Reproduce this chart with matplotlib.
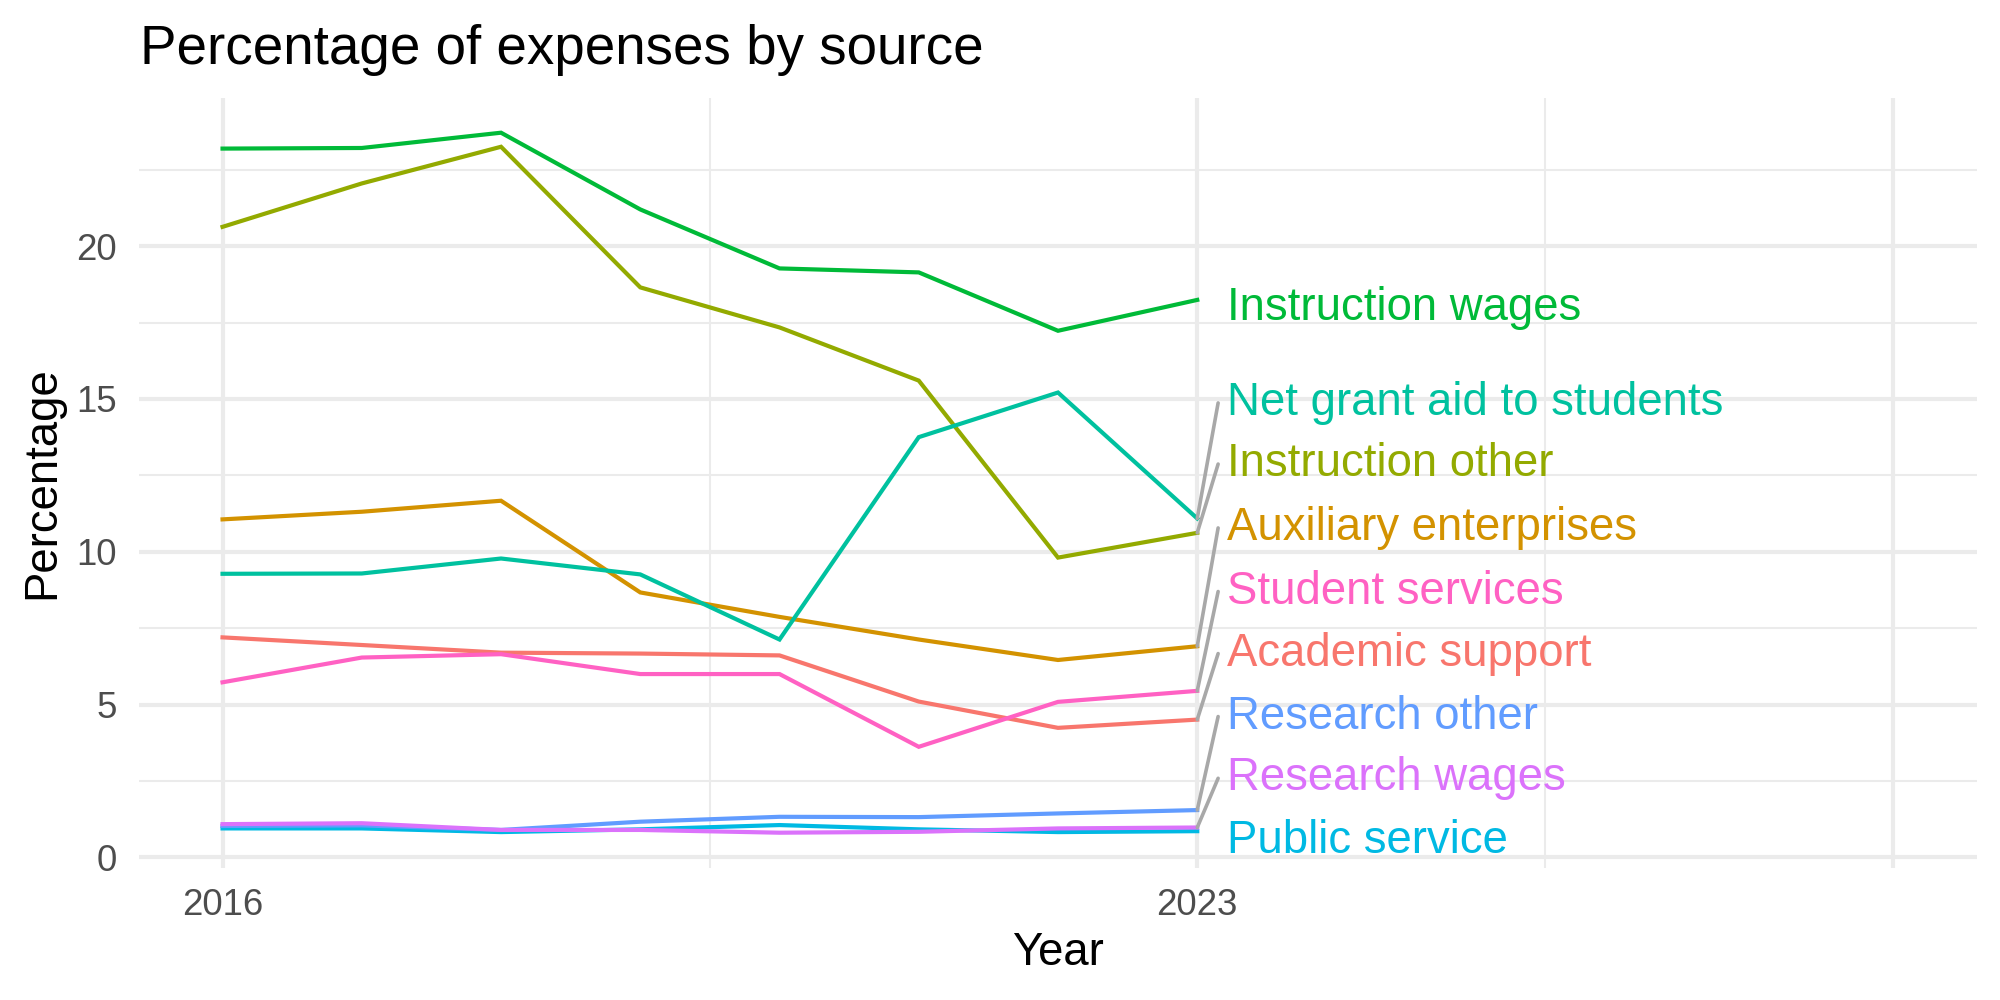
import matplotlib
matplotlib.use("Agg")
import matplotlib.pyplot as plt
from matplotlib.ticker import FixedLocator

plt.rcParams['font.family'] = ['Liberation Sans', 'DejaVu Sans']

years = [2016, 2017, 2018, 2019, 2020, 2021, 2022, 2023]

academic_support = [7.20, 6.95, 6.70, 6.67, 6.61, 5.10, 4.24, 4.51]
auxiliary_enterprises = [11.06, 11.31, 11.67, 8.67, 7.87, 7.13, 6.46, 6.91]
instruction_other = [20.63, 22.05, 23.25, 18.65, 17.34, 15.60, 9.81, 10.62]
instruction_wages = [23.19, 23.21, 23.71, 21.20, 19.27, 19.14, 17.23, 18.24]
net_grant_aid = [9.28, 9.29, 9.78, 9.26, 7.13, 13.75, 15.21, 11.09]
public_service = [0.95, 0.95, 0.83, 0.92, 1.06, 0.92, 0.83, 0.86]
research_other = [1.03, 1.05, 0.90, 1.17, 1.33, 1.32, 1.44, 1.55]
research_wages = [1.09, 1.12, 0.90, 0.90, 0.81, 0.84, 0.95, 0.98]
student_services = [5.73, 6.54, 6.65, 6.00, 6.00, 3.62, 5.09, 5.45]

series_names = ["Academic support", "Auxiliary enterprises", "Instruction other",
                "Instruction wages", "Net grant aid to students", "Public service",
                "Research other", "Research wages", "Student services"]
series_values = [academic_support, auxiliary_enterprises, instruction_other,
                 instruction_wages, net_grant_aid, public_service,
                 research_other, research_wages, student_services]
colors = ["#F8766D", "#D39200", "#93AA00", "#00BA38", "#00C19F",
          "#00B9E3", "#619CFF", "#DB72FB", "#FF61C3"]
# repelled label positions (data units)
label_y = [6.67, 10.78, 12.87, 17.98, 14.87, 0.55, 4.61, 2.59, 8.70]
show_segment = [True, True, True, False, True, False, True, True, True]

x_breaks = [2016, 2023, 2028]
x_tick_labels = ["2016", "2023", ""]
x_minor = [2019.5, 2025.5]
y_breaks = [0, 5, 10, 15, 20]
y_minor = [2.5, 7.5, 12.5, 17.5, 22.5]

W, H = 2000, 1000
fig = plt.figure(figsize=(10, 5), dpi=200)
left, right, bottom, top = 139, 1977, 867.7, 97.7
ax = fig.add_axes([left / W, 1 - bottom / H, (right - left) / W, (bottom - top) / H])

ax.set_xlim(2015.4, 2028.6)
ax.set_ylim(-0.335, 24.855)

grid_col = "#EBEBEB"
ax.xaxis.set_major_locator(FixedLocator(x_breaks))
ax.xaxis.set_minor_locator(FixedLocator(x_minor))
ax.yaxis.set_major_locator(FixedLocator(y_breaks))
ax.yaxis.set_minor_locator(FixedLocator(y_minor))
ax.set_xticklabels(x_tick_labels)
ax.grid(which="major", color=grid_col, linewidth=1.5)
ax.grid(which="minor", color=grid_col, linewidth=0.75)
ax.set_axisbelow(True)
for s in ax.spines.values():
    s.set_visible(False)
ax.tick_params(which="both", length=0)
ax.tick_params(axis="x", pad=7.3, labelsize=13.2, labelcolor="#4D4D4D")
ax.tick_params(axis="y", pad=7.9, labelsize=13.2, labelcolor="#4D4D4D")

for name, vals, col in zip(series_names, series_values, colors):
    ax.plot(years, vals, color=col, linewidth=1.5, solid_joinstyle="miter", zorder=3)

x_end = years[-1]
for name, vals, col, ly, seg in zip(series_names, series_values, colors, label_y, show_segment):
    if seg:
        ax.plot([x_end, x_end + 0.15], [vals[-1], ly], color="#A8A8A8",
                linewidth=1.3, zorder=4, solid_capstyle="round")
    ax.text(x_end + 0.215, ly, name, color=col, fontsize=16.4, va="center",
            ha="left", zorder=5)

fig.text(140 / W, 1 - 64 / H, "Percentage of expenses by source", fontsize=19.7,
         ha="left", va="baseline", color="black")
fig.text((left + right) / 2 / W, 1 - 953 / H, "Year", fontsize=16.4,
         ha="center", va="center", color="black")
fig.text(42 / W, 1 - 483 / H, "Percentage", fontsize=16.4, rotation=90,
         ha="center", va="center", color="black")

fig.savefig("out.png", dpi=200, facecolor="white")
